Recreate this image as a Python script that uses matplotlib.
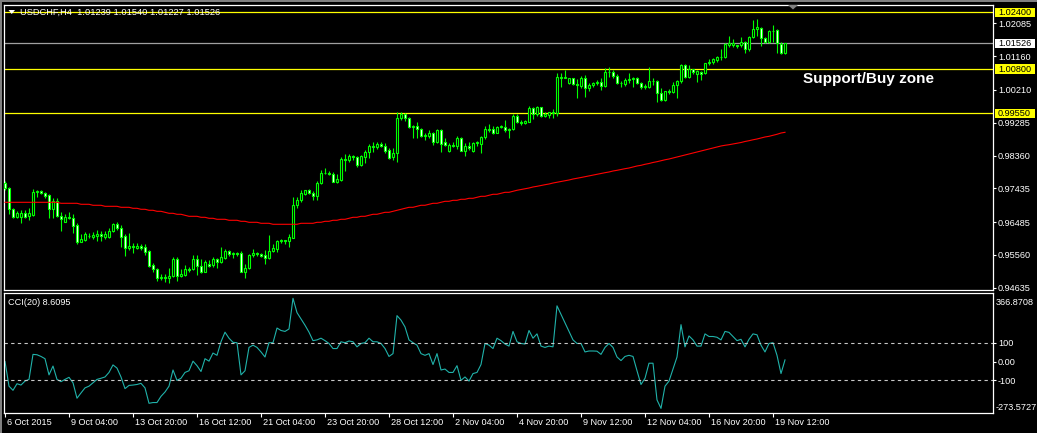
import matplotlib
matplotlib.use("Agg")
import matplotlib.pyplot as plt
import matplotlib.transforms as mtransforms
from matplotlib.patches import Rectangle, Polygon
import numpy as np

plt.rcParams["font.family"] = ["Liberation Sans", "DejaVu Sans"]

# ---- USDCHF H4, values ----
opens = [
    0.9758, 0.9744, 0.9685, 0.9664, 0.9664, 0.9675, 0.9666, 0.9668, 0.9732, 0.9737,
    0.9730, 0.9725, 0.9685, 0.9708, 0.9666, 0.9650, 0.9664, 0.9661, 0.9640, 0.9593,
    0.9597, 0.9608, 0.9606, 0.9610, 0.9615, 0.9607, 0.9607, 0.9623, 0.9642, 0.9633,
    0.9609, 0.9576, 0.9582, 0.9576, 0.9582, 0.9579, 0.9567, 0.9527, 0.9515, 0.9490,
    0.9494, 0.9491, 0.9496, 0.9543, 0.9496, 0.9499, 0.9516, 0.9515, 0.9543, 0.9525,
    0.9509, 0.9529, 0.9527, 0.9544, 0.9535, 0.9548, 0.9567, 0.9559, 0.9561, 0.9561,
    0.9509, 0.9518, 0.9556, 0.9561, 0.9558, 0.9555, 0.9546, 0.9568, 0.9572, 0.9595,
    0.9597, 0.9596, 0.9604, 0.9696, 0.9710, 0.9729, 0.9738, 0.9731, 0.9723, 0.9758,
    0.9786, 0.9788, 0.9785, 0.9762, 0.9767, 0.9826, 0.9823, 0.9835, 0.9833, 0.9809,
    0.9833, 0.9846, 0.9863, 0.9859, 0.9869, 0.9863, 0.9851, 0.9831, 0.9842, 0.9941,
    0.9952, 0.9942, 0.9916, 0.9919, 0.9911, 0.9892, 0.9891, 0.9899, 0.9873, 0.9908,
    0.9873, 0.9850, 0.9866, 0.9864, 0.9885, 0.9850, 0.9863, 0.9850, 0.9871, 0.9870,
    0.9887, 0.9911, 0.9910, 0.9900, 0.9917, 0.9917, 0.9908, 0.9910, 0.9948, 0.9931,
    0.9927, 0.9931, 0.9969, 0.9953, 0.9972, 0.9948, 0.9949, 0.9958, 0.9956, 1.0057,
    1.0056, 1.0040, 1.0054, 1.0039, 1.0032, 1.0054, 1.0026, 1.0034, 1.0042, 1.0043,
    1.0032, 1.0072, 1.0072, 1.0060, 1.0042, 1.0038, 1.0048, 1.0051, 1.0055, 1.0041,
    1.0028, 1.0029, 1.0047, 1.0045, 1.0012, 0.9993, 1.0017, 1.0014, 1.0035, 1.0046,
    1.0091, 1.0058, 1.0079, 1.0066, 1.0073, 1.0068, 1.0096, 1.0100, 1.0105, 1.0114,
    1.0113, 1.0149, 1.0149, 1.0149, 1.0147, 1.0157, 1.0136, 1.0170, 1.0194, 1.0197,
    1.0167, 1.0157, 1.0188, 1.0189, 1.0152, 1.01239,
]
highs = [
    0.9764, 0.9746, 0.9687, 0.9681, 0.9683, 0.9683, 0.9689, 0.9741, 0.9739, 0.9740,
    0.9732, 0.9727, 0.9715, 0.9715, 0.9676, 0.9670, 0.9678, 0.9672, 0.9645, 0.9614,
    0.9621, 0.9618, 0.9620, 0.9627, 0.9624, 0.9623, 0.9633, 0.9646, 0.9650, 0.9640,
    0.9614, 0.9617, 0.9589, 0.9589, 0.9586, 0.9586, 0.9570, 0.9532, 0.9518, 0.9501,
    0.9503, 0.9518, 0.9551, 0.9551, 0.9516, 0.9527, 0.9521, 0.9556, 0.9556, 0.9544,
    0.9542, 0.9541, 0.9551, 0.9548, 0.9577, 0.9572, 0.9570, 0.9565, 0.9565, 0.9567,
    0.9529, 0.9559, 0.9572, 0.9565, 0.9560, 0.9570, 0.9612, 0.9586, 0.9598, 0.9601,
    0.9599, 0.9614, 0.9720, 0.9720, 0.9739, 0.9739, 0.9741, 0.9736, 0.9764, 0.9795,
    0.9800, 0.9793, 0.9790, 0.9783, 0.9833, 0.9840, 0.9840, 0.9838, 0.9836, 0.9838,
    0.9852, 0.9868, 0.9873, 0.9873, 0.9873, 0.9871, 0.9856, 0.9858, 0.9958, 0.9958,
    0.9955, 0.9946, 0.9922, 0.9930, 0.9913, 0.9899, 0.9908, 0.9903, 0.9911, 0.9911,
    0.9886, 0.9871, 0.9873, 0.9891, 0.9887, 0.9871, 0.9873, 0.9873, 0.9877, 0.9892,
    0.9920, 0.9924, 0.9919, 0.9920, 0.9922, 0.9936, 0.9915, 0.9952, 0.9954, 0.9936,
    0.9935, 0.9977, 0.9974, 0.9977, 0.9974, 0.9960, 0.9960, 0.9967, 1.0068, 1.0068,
    1.0077, 1.0056, 1.0056, 1.0052, 1.0061, 1.0063, 1.0040, 1.0044, 1.0049, 1.0054,
    1.0082, 1.0087, 1.0077, 1.0066, 1.0047, 1.0054, 1.0070, 1.0058, 1.0057, 1.0044,
    1.0038, 1.0085, 1.0054, 1.0049, 1.0026, 1.0019, 1.0023, 1.0044, 1.0049, 1.0094,
    1.0094, 1.0091, 1.0079, 1.0077, 1.0075, 1.0098, 1.0107, 1.0110, 1.0117, 1.0136,
    1.0153, 1.0173, 1.0164, 1.0149, 1.0170, 1.0160, 1.0173, 1.0218, 1.0220, 1.0199,
    1.0171, 1.0190, 1.0204, 1.0192, 1.0155, 1.01540,
]
lows = [
    0.9739, 0.9670, 0.9661, 0.9661, 0.9647, 0.9659, 0.9654, 0.9666, 0.9720, 0.9728,
    0.9717, 0.9659, 0.9659, 0.9664, 0.9623, 0.9648, 0.9656, 0.9618, 0.9586, 0.9591,
    0.9595, 0.9603, 0.9600, 0.9595, 0.9596, 0.9601, 0.9603, 0.9620, 0.9626, 0.9579,
    0.9554, 0.9570, 0.9562, 0.9572, 0.9571, 0.9556, 0.9523, 0.9509, 0.9482, 0.9485,
    0.9480, 0.9476, 0.9494, 0.9482, 0.9494, 0.9497, 0.9509, 0.9512, 0.9499, 0.9504,
    0.9507, 0.9523, 0.9523, 0.9520, 0.9532, 0.9544, 0.9554, 0.9548, 0.9554, 0.9507,
    0.9492, 0.9516, 0.9551, 0.9554, 0.9551, 0.9529, 0.9544, 0.9563, 0.9563, 0.9589,
    0.9587, 0.9579, 0.9603, 0.9689, 0.9706, 0.9725, 0.9727, 0.9711, 0.9711, 0.9755,
    0.9783, 0.9781, 0.9761, 0.9758, 0.9764, 0.9793, 0.9819, 0.9823, 0.9805, 0.9807,
    0.9814, 0.9830, 0.9845, 0.9854, 0.9861, 0.9842, 0.9826, 0.9823, 0.9818, 0.9935,
    0.9933, 0.9913, 0.9885, 0.9886, 0.9889, 0.9880, 0.9886, 0.9866, 0.9871, 0.9845,
    0.9864, 0.9847, 0.9861, 0.9854, 0.9849, 0.9836, 0.9852, 0.9845, 0.9864, 0.9842,
    0.9883, 0.9902, 0.9897, 0.9899, 0.9913, 0.9902, 0.9885, 0.9907, 0.9927, 0.9922,
    0.9924, 0.9930, 0.9939, 0.9948, 0.9946, 0.9946, 0.9943, 0.9943, 0.9948, 1.0028,
    1.0054, 1.0037, 1.0035, 0.9998, 1.0026, 1.0002, 1.0019, 1.0028, 1.0035, 1.0021,
    1.0028, 1.0058, 1.0054, 1.0038, 1.0030, 1.0032, 1.0042, 1.0028, 1.0038, 1.0025,
    1.0025, 1.0026, 1.0035, 0.9988, 0.9991, 0.9991, 1.0010, 1.0012, 0.9998, 1.0042,
    1.0054, 1.0054, 1.0066, 1.0044, 1.0049, 1.0065, 1.0091, 1.0093, 1.0101, 1.0105,
    1.0110, 1.0143, 1.0143, 1.0140, 1.0143, 1.0126, 1.0132, 1.0167, 1.0173, 1.0145,
    1.0154, 1.0154, 1.0157, 1.0124, 1.0122, 1.01227,
]
closes = [
    0.9744, 0.9685, 0.9664, 0.9675, 0.9675, 0.9662, 0.9675, 0.9732, 0.9736, 0.9730,
    0.9723, 0.9685, 0.9708, 0.9666, 0.9656, 0.9664, 0.9659, 0.9638, 0.9593, 0.9601,
    0.9614, 0.9609, 0.9613, 0.9616, 0.9609, 0.9615, 0.9623, 0.9642, 0.9631, 0.9607,
    0.9575, 0.9582, 0.9578, 0.9582, 0.9576, 0.9565, 0.9525, 0.9515, 0.9492, 0.9494,
    0.9491, 0.9496, 0.9543, 0.9497, 0.9503, 0.9516, 0.9513, 0.9543, 0.9525, 0.9509,
    0.9536, 0.9525, 0.9544, 0.9535, 0.9549, 0.9567, 0.9559, 0.9561, 0.9558, 0.9509,
    0.9520, 0.9556, 0.9561, 0.9558, 0.9554, 0.9546, 0.9568, 0.9575, 0.9595, 0.9597,
    0.9594, 0.9606, 0.9697, 0.9711, 0.9730, 0.9738, 0.9731, 0.9723, 0.9758, 0.9786,
    0.9788, 0.9784, 0.9762, 0.9770, 0.9826, 0.9823, 0.9835, 0.9831, 0.9809, 0.9835,
    0.9847, 0.9863, 0.9861, 0.9869, 0.9864, 0.9850, 0.9830, 0.9843, 0.9941, 0.9952,
    0.9941, 0.9916, 0.9919, 0.9911, 0.9892, 0.9893, 0.9899, 0.9873, 0.9908, 0.9868,
    0.9866, 0.9866, 0.9864, 0.9885, 0.9850, 0.9863, 0.9856, 0.9871, 0.9873, 0.9887,
    0.9911, 0.9909, 0.9900, 0.9917, 0.9918, 0.9908, 0.9911, 0.9948, 0.9931, 0.9928,
    0.9933, 0.9971, 0.9953, 0.9972, 0.9948, 0.9952, 0.9958, 0.9956, 1.0057, 1.0056,
    1.0058, 1.0054, 1.0039, 1.0035, 1.0054, 1.0026, 1.0035, 1.0042, 1.0043, 1.0032,
    1.0072, 1.0071, 1.0060, 1.0042, 1.0041, 1.0049, 1.0051, 1.0055, 1.0042, 1.0028,
    1.0032, 1.0047, 1.0045, 1.0012, 0.9993, 1.0017, 1.0014, 1.0035, 1.0047, 1.0091,
    1.0058, 1.0079, 1.0071, 1.0074, 1.0067, 1.0096, 1.0101, 1.0107, 1.0115, 1.0113,
    1.0150, 1.0153, 1.0154, 1.0146, 1.0157, 1.0136, 1.0171, 1.0194, 1.0199, 1.0167,
    1.0157, 1.0188, 1.0186, 1.0153, 1.0124, 1.01526,
]
# red moving average
ma = [
    0.97042, 0.97042, 0.97042, 0.97042, 0.97042, 0.97042, 0.97042, 0.97042, 0.97042, 0.97042,
    0.97042, 0.97042, 0.97042, 0.97042, 0.97014, 0.97014, 0.97014, 0.97014, 0.97014, 0.96986,
    0.96986, 0.96986, 0.96958, 0.96958, 0.96958, 0.96929, 0.96929, 0.96929, 0.96929, 0.96901,
    0.96901, 0.96901, 0.96873, 0.96873, 0.96845, 0.96845, 0.96817, 0.96817, 0.96788, 0.96788,
    0.96760, 0.96732, 0.96732, 0.96704, 0.96704, 0.96676, 0.96647, 0.96647, 0.96647, 0.96619,
    0.96619, 0.96591, 0.96591, 0.96563, 0.96563, 0.96563, 0.96535, 0.96535, 0.96535, 0.96506,
    0.96506, 0.96478, 0.96478, 0.96478, 0.96450, 0.96450, 0.96450, 0.96422, 0.96422, 0.96422,
    0.96422, 0.96422, 0.96422, 0.96422, 0.96450, 0.96450, 0.96450, 0.96450, 0.96478, 0.96478,
    0.96506, 0.96506, 0.96535, 0.96535, 0.96563, 0.96563, 0.96591, 0.96619, 0.96619, 0.96647,
    0.96647, 0.96676, 0.96704, 0.96704, 0.96732, 0.96760, 0.96760, 0.96788, 0.96817, 0.96845,
    0.96873, 0.96901, 0.96901, 0.96929, 0.96958, 0.96958, 0.96986, 0.97014, 0.97014, 0.97042,
    0.97070, 0.97070, 0.97098, 0.97098, 0.97127, 0.97127, 0.97155, 0.97155, 0.97183, 0.97211,
    0.97211, 0.97240, 0.97268, 0.97268, 0.97296, 0.97324, 0.97324, 0.97352, 0.97381, 0.97403,
    0.97426, 0.97445, 0.97474, 0.97493, 0.97516, 0.97538, 0.97558, 0.97586, 0.97606, 0.97629,
    0.97651, 0.97671, 0.97699, 0.97719, 0.97741, 0.97764, 0.97784, 0.97812, 0.97832, 0.97854,
    0.97877, 0.97897, 0.97925, 0.97944, 0.97967, 0.97990, 0.98009, 0.98038, 0.98066, 0.98085,
    0.98114, 0.98136, 0.98165, 0.98187, 0.98215, 0.98241, 0.98263, 0.98291, 0.98320, 0.98348,
    0.98376, 0.98404, 0.98432, 0.98461, 0.98489, 0.98517, 0.98545, 0.98573, 0.98602, 0.98630,
    0.98650, 0.98666, 0.98686, 0.98709, 0.98728, 0.98757, 0.98779, 0.98805, 0.98827, 0.98855,
    0.98884, 0.98903, 0.98932, 0.98960, 0.98996, 0.99016,
]
cci = [
    0, -131, -153, -118, -125, -104, -95, 38, 36, 27,
    15, -71, -24, -95, -107, -95, -84, -113, -195, -167,
    -140, -131, -113, -95, -89, -82, -58, -18, -35, -82,
    -144, -127, -125, -122, -116, -140, -222, -218, -218, -185,
    -162, -131, -45, -100, -89, -58, -49, 2, -22, -53,
    15, 2, 45, 33, 105, 156, 124, 102, 100, -71,
    -49, 75, 87, 75, 51, 24, 100, 100, 178, 165,
    160, 173, 336, 260, 227, 193, 156, 111, 115, 124,
    111, 96, 69, 69, 105, 100, 109, 105, 78, 96,
    100, 124, 105, 105, 96, 69, 27, 42, 244, 220,
    184, 115, 100, 87, 42, 33, 42, -16, 42, -45,
    -40, -58, -58, -22, -100, -82, -104, -64, -58, -16,
    96, 87, 69, 124, 111, 93, 82, 160, 105, 96,
    93, 165, 124, 147, 82, 75, 82, 78, 296, 251,
    205, 160, 115, 96, 96, 51, 56, 56, 55, 38,
    75, 96, 75, 24, 5, 27, 33, 27, -49, -122,
    -89, -9, -9, -204, -249, -131, -104, -40, 24, 196,
    78, 136, 115, 82, 82, 147, 133, 133, 129, 115,
    160, 155, 133, 111, 118, 78, 118, 147, 142, 87,
    51, 96, 100, 33, -64, 8.6,
]
time_labels = ["6 Oct 2015", "9 Oct 04:00", "13 Oct 20:00", "16 Oct 12:00",
               "21 Oct 04:00", "23 Oct 20:00", "28 Oct 12:00", "2 Nov 04:00",
               "4 Nov 20:00", "9 Nov 12:00", "12 Nov 04:00", "16 Nov 20:00",
               "19 Nov 12:00"]
price_ticks = [1.02085, 1.01160, 1.00210, 0.99285, 0.98360, 0.97435, 0.96485, 0.95560, 0.94635]
levels = [1.02400, 1.00800, 0.99550]
bid = 1.01526
cci_ticks = [100, 0, -100]
cci_range = (-273.5727, 366.8708)
title = "USDCHF,H4  1.01239 1.01540 1.01227 1.01526"

GREEN = "#00ff00"
W, H = 1037, 433
n = len(closes)
x = np.arange(n)
o = np.array(opens); c = np.array(closes)

fig = plt.figure(figsize=(W / 100, H / 100), dpi=100)
fig.patch.set_facecolor("black")


def pbox(l, t, r, b):
    return [l / W, 1 - b / H, (r - l) / W, (b - t) / H]


def fxy(px, py):
    return (px / W, 1 - py / H)


ax = fig.add_axes(pbox(4, 4.5, 992.5, 290))
cx = fig.add_axes(pbox(4, 292.5, 992.5, 413))
for a in (ax, cx):
    a.set_facecolor("black")
    for s in a.spines.values():
        s.set_color("white")
        s.set_linewidth(0.9)
    a.set_xlim(-0.25, 246.875)
    a.yaxis.tick_right()
    a.tick_params(axis="y", colors="white", labelsize=6.6, length=2.5, width=0.8, pad=1.5)

# --- price panel ---
ax.set_ylim(0.94569, 1.02620)
ax.tick_params(axis="x", bottom=False, labelbottom=False)
ax.set_yticks(price_ticks)
ax.set_yticklabels([f"{v:.5f}" for v in price_ticks])

for lv in levels:
    ax.axhline(lv, color="#ffff00", lw=0.9, zorder=2)
ax.axhline(bid, color="#a0a0a0", lw=0.9, zorder=2)

ax.vlines(x, lows, highs, color=GREEN, lw=0.8, zorder=3)
ax.bar(x, np.abs(c - o), bottom=np.minimum(o, c), width=0.5,
       color=["black" if up else "white" for up in c >= o],
       edgecolor=GREEN, linewidth=0.8, zorder=4)
ax.plot(x, ma, color="#ff0000", lw=0.8, zorder=5)

# price tags on the right scale
trans = mtransforms.blended_transform_factory(ax.transAxes, ax.transData)
half = 4.7 * 0.000282
for val, fc in [(levels[0], "#ffff00"), (levels[1], "#ffff00"), (levels[2], "#ffff00"), (bid, "white")]:
    ax.add_patch(Rectangle((991 / 988.5, val - half), 40 / 988.5, 2 * half, transform=trans,
                           facecolor=fc, edgecolor="none", clip_on=False, zorder=20))
    ax.text(994 / 988.5, val, f"{val:.5f}", transform=trans, ha="left", va="center",
            fontsize=6.6, color="black", clip_on=False, zorder=21)

# --- CCI panel ---
cx.set_ylim(*cci_range)
cx.plot(x, cci, color="#20b2aa", lw=0.8)
for lv in (100, -100):
    cx.axhline(lv, color="#c8c8c8", lw=0.8, ls=(0, (3, 3)))
cx.set_yticks(cci_ticks)
cx.set_yticklabels(["100", "0.00", "-100"])
ctrans = mtransforms.blended_transform_factory(cx.transAxes, cx.transData)
cx.annotate(f"{cci_range[1]:.4f}", xy=(1.0, cci_range[1]), xycoords=ctrans, xytext=(2.5, -7.5),
            textcoords="offset points", ha="left", va="center", fontsize=6.6, color="white",
            annotation_clip=False)
cx.annotate(f"{cci_range[0]:.4f}", xy=(1.0, cci_range[0]), xycoords=ctrans, xytext=(2.5, 4),
            textcoords="offset points", ha="left", va="center", fontsize=6.6, color="white",
            annotation_clip=False)

label_bars = np.arange(0, n, 16)[:len(time_labels)]
cx.set_xticks(label_bars)
cx.set_xticklabels([])
cx.tick_params(axis="x", colors="white", length=3, width=0.8, direction="out")
for b, lab in zip(label_bars, time_labels):
    cx.annotate(lab, xy=(b, 0), xycoords=("data", "axes fraction"), xytext=(1.5, -3.5),
                textcoords="offset points", ha="left", va="top", fontsize=6.6,
                color="white", annotation_clip=False)

# --- texts and decorations ---
fig.text(*fxy(20.5, 12.5), title, color="white", fontsize=6.7, ha="left", va="center")
fig.text(*fxy(8.5, 302.5), "CCI(20) 8.6095", color="white", fontsize=6.6, ha="left", va="center")
fig.text(*fxy(803, 83), "Support/Buy zone", color="white", fontsize=11,
         fontweight="bold", ha="left", va="baseline")

fig.add_artist(Polygon([fxy(8.5, 10), fxy(15, 10), fxy(11.75, 14)], closed=True,
                       transform=fig.transFigure, facecolor="white", edgecolor="none"))
fig.add_artist(Polygon([fxy(788, 5), fxy(798, 5), fxy(793, 9.5)], closed=True,
                       transform=fig.transFigure, facecolor="#808080", edgecolor="none"))
fig.add_artist(Rectangle(fxy(0, 2), 1, 2 / H, transform=fig.transFigure,
                         facecolor="#808080", edgecolor="none"))
fig.add_artist(Rectangle(fxy(0, H), 2 / W, 1, transform=fig.transFigure,
                         facecolor="#808080", edgecolor="none"))

fig.savefig("out.png", dpi=100, facecolor="black")
